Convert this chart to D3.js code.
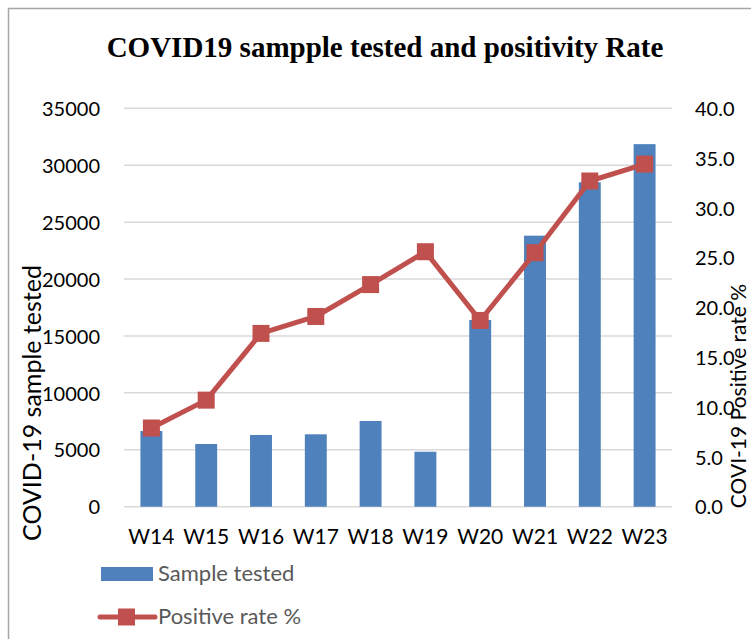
<!DOCTYPE html>
<html>
<head>
<meta charset="utf-8">
<script src="https://cdn.jsdelivr.net/npm/d3@7"></script>
<style>
  body { margin: 0; background: #fff; }
  svg { display: block; }
</style>
</head>
<body>
<div id="grafico"></div>
<script>
// Datos
const semanas = ['W14', 'W15', 'W16', 'W17', 'W18', 'W19', 'W20', 'W21', 'W22', 'W23'];
const muestras = [6650, 5510, 6300, 6360, 7530, 4830, 16400, 23810, 28500, 31850];
const positividad = [7.9, 10.7, 17.4, 19.1, 22.3, 25.6, 18.7, 25.5, 32.7, 34.4];
const ticksMuestras = [0, 5000, 10000, 15000, 20000, 25000, 30000, 35000];
const ticksPositividad = [0, 5, 10, 15, 20, 25, 30, 35, 40];

const titulo = 'COVID19 sampple tested and positivity Rate';
const tituloIzq = 'COVID-19 sample tested';
const tituloDer = 'COVI-19 Positive rate %';
const leyenda = ['Sample tested', 'Positive rate %'];

const ancho = 751;
const alto = 639;
const azul = '#4f81bd';
const rojo = '#c0504d';
const fuente = 'Lato, "Open Sans", sans-serif';

const svg = d3.select('#grafico').append('svg')
  .attr('width', ancho)
  .attr('height', alto);

// Marco del grafico
svg.append('rect')
  .attr('x', 8.5)
  .attr('y', 8.5)
  .attr('width', 800)
  .attr('height', 800)
  .attr('fill', 'none')
  .attr('stroke', '#a6a6a6')
  .attr('stroke-width', 1.5);

// Escalas
const x = d3.scaleBand()
  .domain(semanas)
  .range([124, 672])
  .paddingInner(0.6)
  .paddingOuter(0.3);

const yIzq = d3.scaleLinear().domain([0, 35000]).range([506.7, 108.3]);
const yDer = d3.scaleLinear().domain([0, 40]).range([506.7, 108.3]);

// Lineas de cuadricula
svg.append('g')
  .selectAll('line')
  .data(ticksMuestras)
  .enter()
  .append('line')
  .attr('x1', 124)
  .attr('x2', 672)
  .attr('y1', d => yIzq(d))
  .attr('y2', d => yIzq(d))
  .attr('stroke', '#d9d9d9')
  .attr('stroke-width', 1.5);

// Eje izquierdo
const ejeIzq = svg.append('g')
  .attr('transform', 'translate(100,0)')
  .call(d3.axisLeft(yIzq).tickValues(ticksMuestras).tickSize(0).tickPadding(0).tickFormat(d3.format('d')));
ejeIzq.select('.domain').remove();
ejeIzq.selectAll('text')
  .attr('dy', '0.36em')
  .style('font-family', fuente)
  .style('font-size', '20px')
  .style('fill', '#000');

// Eje derecho
const ejeDer = svg.append('g')
  .attr('transform', 'translate(695,0)')
  .call(d3.axisRight(yDer).tickValues(ticksPositividad).tickSize(0).tickPadding(0).tickFormat(d3.format('.1f')));
ejeDer.select('.domain').remove();
ejeDer.selectAll('text')
  .attr('dy', '0.36em')
  .style('font-family', fuente)
  .style('font-size', '20px')
  .style('fill', '#000');

// Eje inferior
const ejeX = svg.append('g')
  .attr('transform', 'translate(0,' + 529 + ')')
  .call(d3.axisBottom(x).tickSize(0).tickPadding(0));
ejeX.select('.domain').remove();
ejeX.selectAll('text')
  .attr('dy', '0.72em')
  .style('font-family', fuente)
  .style('font-size', '21px')
  .style('fill', '#000');

// Barras
svg.append('g')
  .selectAll('rect')
  .data(muestras)
  .enter()
  .append('rect')
  .attr('x', (d, i) => x(semanas[i]))
  .attr('y', d => yIzq(d))
  .attr('width', x.bandwidth())
  .attr('height', d => yIzq(0) - yIzq(d))
  .attr('fill', azul);

// Linea de positividad
const centro = i => x(semanas[i]) + x.bandwidth() / 2;
const linea = d3.line()
  .x((d, i) => centro(i))
  .y(d => yDer(d));

svg.append('path')
  .datum(positividad)
  .attr('d', linea)
  .attr('fill', 'none')
  .attr('stroke', rojo)
  .attr('stroke-width', 5)
  .attr('stroke-linejoin', 'round');

svg.append('g')
  .selectAll('rect')
  .data(positividad)
  .enter()
  .append('rect')
  .attr('x', (d, i) => centro(i) - 8.5)
  .attr('y', d => yDer(d) - 8.5)
  .attr('width', 17)
  .attr('height', 17)
  .attr('fill', rojo);

// Titulo
svg.append('text')
  .attr('x', 385)
  .attr('y', 57)
  .attr('text-anchor', 'middle')
  .style('font-family', '"Liberation Serif", "Times New Roman", serif')
  .style('font-weight', 'bold')
  .style('font-size', '29px')
  .text(titulo);

// Titulos de ejes
svg.append('text')
  .attr('transform', 'translate(41,403) rotate(-90)')
  .attr('text-anchor', 'middle')
  .style('font-family', fuente)
  .style('font-size', '25px')
  .style('fill', '#000')
  .text(tituloIzq);

svg.append('text')
  .attr('transform', 'translate(746,396) rotate(-90)')
  .attr('text-anchor', 'middle')
  .style('font-family', fuente)
  .style('font-size', '21px')
  .style('fill', '#000')
  .text(tituloDer);

// Leyenda
svg.append('rect')
  .attr('x', 101)
  .attr('y', 567)
  .attr('width', 52)
  .attr('height', 14)
  .attr('fill', azul);

svg.append('line')
  .attr('x1', 100)
  .attr('x2', 155)
  .attr('y1', 617)
  .attr('y2', 617)
  .attr('stroke', rojo)
  .attr('stroke-width', 5)
  .attr('stroke-linecap', 'round');

svg.append('rect')
  .attr('x', 118)
  .attr('y', 608.5)
  .attr('width', 17)
  .attr('height', 17)
  .attr('fill', rojo);

svg.append('g')
  .selectAll('text')
  .data(leyenda)
  .enter()
  .append('text')
  .attr('x', 158)
  .attr('y', (d, i) => 581 + i * 43)
  .style('font-family', fuente)
  .style('font-size', '22px')
  .style('fill', '#595959')
  .text(d => d);
</script>
</body>
</html>
